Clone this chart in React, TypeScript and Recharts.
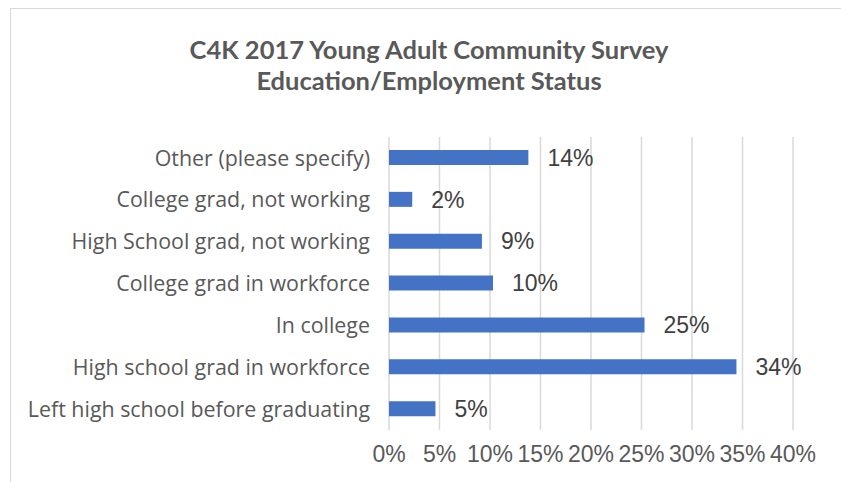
import { Bar, BarChart, CartesianGrid, LabelList, XAxis, YAxis } from 'recharts';

// survey answers, listed top to bottom as drawn
const categories = [
  'Other (please specify)',
  'College grad, not working',
  'High School grad, not working',
  'College grad in workforce',
  'In college',
  'High school grad in workforce',
  'Left high school before graduating',
];
const shares = [13.8, 2.3, 9.2, 10.3, 25.3, 34.4, 4.6];
const pctTicks = [0, 5, 10, 15, 20, 25, 30, 35, 40];

const titleLines = ['C4K 2017 Young Adult Community Survey', 'Education/Employment Status'];

const data = categories.map((name, i) => ({ name, share: shares[i] }));

export default function App() {
  return (
    <div style={{ position: 'absolute', left: 0, top: 0, width: 841, height: 482, overflow: 'hidden', background: '#fff' }}>
      <div
        style={{
          position: 'absolute',
          left: 10,
          top: 8,
          width: 836,
          height: 500,
          border: '1px solid #d9d9d9',
        }}
      />
      <div
        style={{
          position: 'absolute',
          left: 10,
          top: 34,
          width: 838,
          textAlign: 'center',
          fontFamily: 'Lato, sans-serif',
          fontWeight: 700,
          fontSize: 25.5,
          lineHeight: '31px',
          color: '#595959',
        }}
      >
        {titleLines.map((t) => (
          <div key={t}>{t}</div>
        ))}
      </div>
      <div style={{ position: 'absolute', left: 0, top: 0 }}>
        <BarChart
          width={841}
          height={482}
          data={data}
          layout="vertical"
          margin={{ top: 137, right: 48, bottom: 22, left: 0 }}
        >
          <CartesianGrid horizontal={false} stroke="#d9d9d9" strokeWidth={1.5} />
          <XAxis
            type="number"
            domain={[0, 40]}
            ticks={pctTicks}
            tickFormatter={(v) => `${v}%`}
            axisLine={false}
            tickLine={false}
            tickSize={0}
            tickMargin={16}
            height={30}
            interval={0}
            tick={{ fontSize: 23, fill: '#595959', fontFamily: 'Liberation Sans, Arial, sans-serif' }}
          />
          <YAxis
            type="category"
            dataKey="name"
            width={389}
            axisLine={false}
            tickLine={false}
            tickSize={0}
            tickMargin={19}
            interval={0}
            tick={{ fontSize: 21.4, fill: '#595959', fontFamily: 'Open Sans, sans-serif' }}
          />
          <Bar dataKey="share" fill="#4472c4" barSize={15} isAnimationActive={false}>
            <LabelList
              dataKey="share"
              position="right"
              offset={19}
              formatter={(v: number) => `${Math.round(v)}%`}
              style={{ fontSize: 23, fill: '#404040', fontFamily: 'Liberation Sans, Arial, sans-serif' }}
            />
          </Bar>
        </BarChart>
      </div>
    </div>
  );
}
